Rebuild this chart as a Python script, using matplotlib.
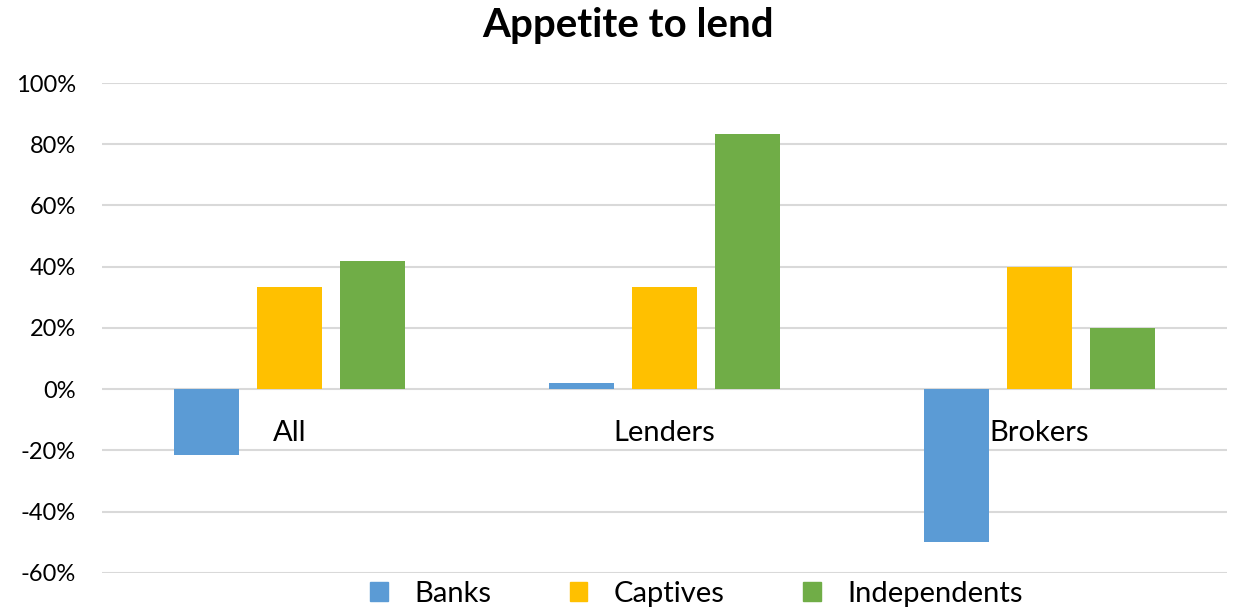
import numpy as np
import matplotlib.pyplot as plt
from matplotlib.patches import Patch
from matplotlib.ticker import FuncFormatter

plt.rcParams['font.family'] = ['Lato', 'DejaVu Sans']

# survey shares, in percent
categories = ['All', 'Lenders', 'Brokers']
banks = [-21.5, 2, -50]
captives = [33.3, 33.3, 40]
independents = [41.7, 83.3, 20]

series_names = ['Banks', 'Captives', 'Independents']
colors = ['#5B9BD5', '#FFC000', '#70AD47']

fig = plt.figure(figsize=(12.37, 6.13), dpi=100)
ax = fig.add_axes([0.0825, 0.0657, 0.9095, 0.7989])

x = np.arange(len(categories))
width = 0.173
step = 0.221
for k, (vals, col) in enumerate(zip([banks, captives, independents], colors)):
    ax.bar(x + (k - 1) * step, vals, width, color=col, zorder=3)

ax.set_xlim(-0.5, 2.5)
ax.set_ylim(-60, 100)
ax.set_yticks(np.arange(-60, 101, 20))
ax.yaxis.set_major_formatter(FuncFormatter(lambda v, p: '{:.0f}%'.format(v)))
ax.tick_params(axis='y', length=0, pad=19, labelsize=17)
ax.set_xticks([])
ax.grid(axis='y', color='#D9D9D9', linewidth=1.5, zorder=0)
for s in ax.spines.values():
    s.set_visible(False)

# category names sit just under the zero line
for i, name in enumerate(categories):
    ax.annotate(name, xy=(i, 0), xytext=(0, -22), textcoords='offset points',
                ha='center', va='top', fontsize=21)

fig.suptitle('Appetite to lend', x=0.508, y=0.958, va='center',
             fontsize=29, fontweight='bold')

handles = [Patch(color=c, label=n) for c, n in zip(colors, series_names)]
fig.legend(handles=handles, loc='center', bbox_to_anchor=(0.563, 0.031),
           ncol=3, frameon=False, fontsize=21, handlelength=0.6, handleheight=0.6,
           handletextpad=0.9, columnspacing=2.7)

fig.savefig('out.png', dpi=100)
